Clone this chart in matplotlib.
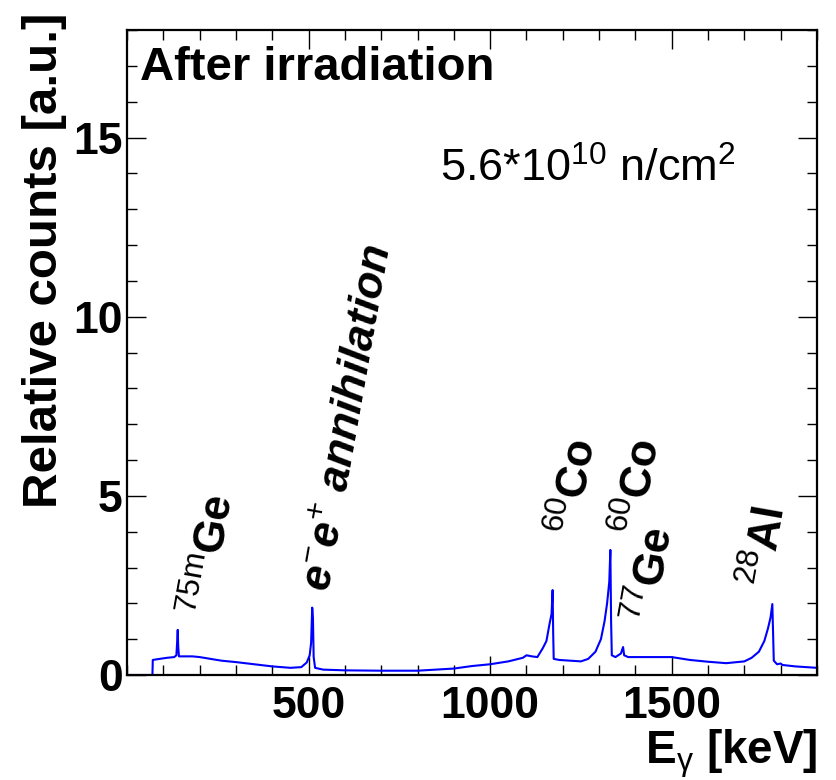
import matplotlib
matplotlib.use("Agg")
import matplotlib.pyplot as plt
from matplotlib.ticker import MultipleLocator

plt.rcParams['font.family'] = ['Liberation Sans', 'DejaVu Sans']
plt.rcParams['mathtext.fontset'] = 'custom'
plt.rcParams['mathtext.rm'] = 'Liberation Sans'
plt.rcParams['mathtext.it'] = 'Liberation Sans:italic'
plt.rcParams['mathtext.bf'] = 'Liberation Sans:bold'

# Spectrum (energy in keV, relative counts)
energy = [0, 70, 71, 90, 110, 130, 136, 138, 139.7, 141, 143, 160, 180, 200, 230, 260,
          300, 350, 400, 450, 480, 495, 503, 507, 510, 512, 514, 518, 540, 600, 700,
          800, 900, 950, 1000, 1050, 1090, 1100, 1115, 1130, 1145, 1155, 1163, 1169,
          1172, 1173.5, 1175, 1190, 1220, 1250, 1270, 1290, 1305, 1315, 1322, 1328,
          1331, 1333, 1335, 1345, 1360, 1366, 1369, 1380, 1420, 1500, 1550, 1600,
          1650, 1700, 1720, 1740, 1755, 1765, 1772, 1777, 1779, 1781, 1790, 1800,
          1805, 1840, 1900]
counts = [0, 0, 0.42, 0.45, 0.48, 0.5, 0.55, 0.9, 1.26, 0.8, 0.52, 0.52, 0.52, 0.5,
          0.45, 0.4, 0.36, 0.3, 0.24, 0.2, 0.22, 0.35, 0.55, 0.9, 1.88, 1.6, 0.5, 0.2,
          0.15, 0.13, 0.12, 0.12, 0.18, 0.25, 0.3, 0.38, 0.48, 0.55, 0.52, 0.5, 0.75,
          0.95, 1.4, 1.7, 2.37, 1.2, 0.45, 0.42, 0.4, 0.38, 0.45, 0.65, 1.0, 1.5, 2.0,
          2.6, 3.49, 1.5, 0.55, 0.5, 0.6, 0.78, 0.55, 0.5, 0.5, 0.5, 0.42, 0.37, 0.33,
          0.38, 0.48, 0.65, 0.95, 1.3, 1.6, 1.98, 1.2, 0.4, 0.3, 0.32, 0.28, 0.24, 0.2]

x_ticks = [500, 1000, 1500]
x_tick_labels = ['500', '1000', '1500']
y_ticks = [0, 5, 10, 15]
y_tick_labels = ['0', '5', '10', '15']

# Peak annotations: (text, x, y, style)
peak_labels = [r'$^{\mathrm{75m}}$Ge', r'e$^{-}$e$^{+}$ annihilation',
               r'$^{\mathrm{60}}$Co', r'$^{\mathrm{60}}$Co', r'$^{\mathrm{77}}$Ge',
               r'$^{\mathrm{28}}$Al']
peak_x = [236, 555, 1246, 1424, 1460, 1775]
peak_y = [1.6, 2.3, 3.85, 3.85, 1.4, 2.4]
peak_style = ['normal', 'italic', 'normal', 'normal', 'normal', 'normal']

fig = plt.figure(figsize=(8.37, 7.8), dpi=100)
ax = fig.add_axes([127/837, 1-675/780, (817-127)/837, (675-30)/780])

ax.plot(energy, counts, color='#0000ff', lw=1.5)
ax.set_xlim(0, 1900)
ax.set_ylim(0, 18)

ax.set_xticks(x_ticks)
ax.set_xticklabels(x_tick_labels, fontweight='bold')
ax.set_yticks(y_ticks)
ax.set_yticklabels(y_tick_labels, fontweight='bold')
ax.xaxis.set_minor_locator(MultipleLocator(100))
ax.yaxis.set_minor_locator(MultipleLocator(1))
ax.tick_params(which='both', direction='in', top=True, right=True, width=1.0,
               labelsize=32)
ax.tick_params(which='major', length=14)
ax.tick_params(which='minor', length=7)
ax.tick_params(axis='x', pad=8)
ax.tick_params(axis='y', pad=3)
for s in ax.spines.values():
    s.set_linewidth(1.6)

fig.text(45/837, 1-260/780, 'Relative counts [a.u.]', rotation=90, fontsize=35.5,
         fontweight='bold', ha='center', va='center')
fig.text(818/837, 1-763/780, r'E$_{\mathrm{\gamma}}$ [keV]', fontsize=33,
         fontweight='bold', ha='right', va='baseline')

ax.text(140/837, 1-80/780, 'After irradiation', transform=fig.transFigure,
        fontsize=34, fontweight='bold', ha='left', va='baseline')
ax.text(440/837, 1-182/780, r'5.6*10$^{10}$ n/cm$^{2}$', transform=fig.transFigure,
        fontsize=32.5, ha='left', va='baseline')

for t, x, y, st in zip(peak_labels, peak_x, peak_y, peak_style):
    ax.text(x, y, t, rotation=80, rotation_mode='anchor', ha='left', va='baseline',
            fontsize=32, fontweight='bold', fontstyle=st)

fig.savefig('out.png', dpi=100)
